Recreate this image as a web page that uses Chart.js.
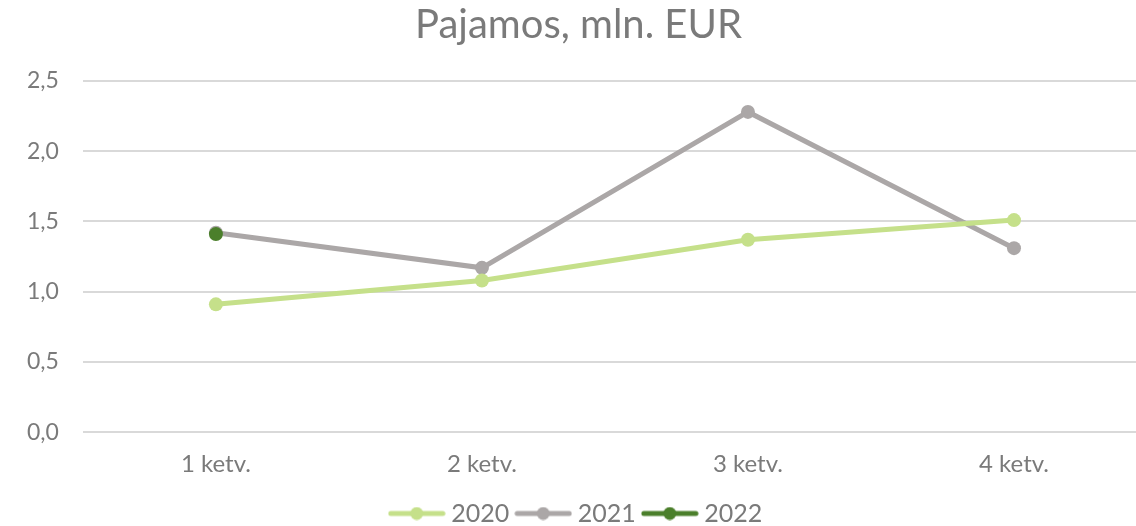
<!DOCTYPE html>
<html>
<head>
<meta charset="utf-8">
<script src="https://cdn.jsdelivr.net/npm/chart.js@4"></script>
<style>
  html, body { margin: 0; padding: 0; background: #fff; overflow: hidden; }
  #wrap { width: 1154px; height: 526px; }
</style>
</head>
<body>
<div id="wrap"><canvas id="myChart"></canvas></div>
<script>
const quarters = ["1 ketv.", "2 ketv.", "3 ketv.", "4 ketv."];
const years = ["2020", "2021", "2022"];
const values2020 = [0.91, 1.08, 1.37, 1.51];
const values2021 = [1.42, 1.17, 2.28, 1.31];
const values2022 = [1.41, null, null, null];
const colors = ["#c5e08a", "#aba7a7", "#4b7f2b"];
const drawOrder = [1, 2, 0];

const fontFamily = "Lato, 'Open Sans', sans-serif";
const gray = "#7a7a7a";

// legend marker: short line with a dot in the middle
function legendMark(color) {
    const c = document.createElement('canvas');
    c.width = 58; c.height = 14;
    const ctx = c.getContext('2d');
    ctx.strokeStyle = color;
    ctx.lineWidth = 5;
    ctx.lineCap = 'round';
    ctx.beginPath();
    ctx.moveTo(3, 7); ctx.lineTo(55, 7);
    ctx.stroke();
    ctx.fillStyle = color;
    ctx.beginPath();
    ctx.arc(29, 7, 6.5, 0, Math.PI * 2);
    ctx.fill();
    return c;
}

const data = {
    labels: quarters,
    datasets: [values2020, values2021, values2022].map((vals, i) => ({
        label: years[i],
        data: vals,
        order: drawOrder[i],
        borderColor: colors[i],
        backgroundColor: colors[i],
        borderWidth: 5,
        pointRadius: 7,
        pointHoverRadius: 7,
        pointBorderWidth: 0,
        tension: 0
    }))
};

const config = {
    type: 'line',
    data: data,
    options: {
        responsive: true,
        maintainAspectRatio: false,
        animation: false,
        layout: { padding: { left: 3, right: 0, top: 0, bottom: -10 } },
        plugins: {
            title: {
                display: true,
                text: "Pajamos, mln. EUR",
                color: gray,
                font: { family: fontFamily, size: 40, weight: 'normal' },
                padding: { top: 1, bottom: 32 }
            },
            legend: {
                position: 'bottom',
                labels: {
                    color: gray,
                    font: { family: fontFamily, size: 25 },
                    usePointStyle: true,
                    pointStyleWidth: 44,
                    padding: 12,
                    generateLabels: chart => chart.data.datasets.map((ds, i) => ({
                        text: ds.label,
                        pointStyle: legendMark(ds.borderColor),
                        fillStyle: ds.borderColor,
                        strokeStyle: ds.borderColor,
                        lineWidth: 0,
                        fontColor: gray,
                        datasetIndex: i
                    }))
                }
            },
            tooltip: { enabled: false }
        },
        scales: {
            x: {
                offset: true,
                grid: { display: false },
                border: { display: false },
                ticks: {
                    color: gray,
                    font: { family: fontFamily, size: 24 },
                    padding: 10
                }
            },
            y: {
                min: 0,
                max: 2.5,
                grid: { color: "#d9d9d9", lineWidth: 2, drawTicks: false },
                border: { display: false },
                ticks: {
                    stepSize: 0.5,
                    color: gray,
                    font: { family: fontFamily, size: 23 },
                    padding: 24,
                    callback: v => v.toFixed(1).replace('.', ',')
                }
            }
        }
    }
};

const myChart = new Chart(document.getElementById('myChart'), config);
</script>
</body>
</html>
